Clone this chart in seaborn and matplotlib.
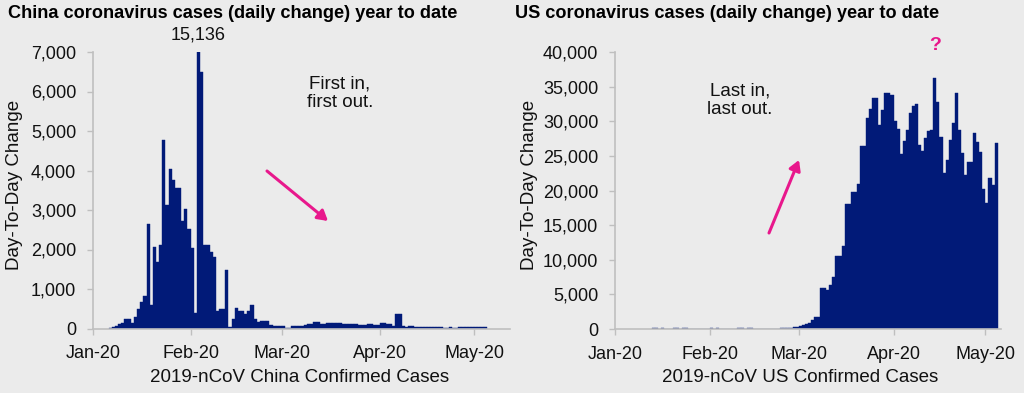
import numpy as np
import matplotlib
matplotlib.use('Agg')
import matplotlib.pyplot as plt
import seaborn as sns
from matplotlib import font_manager
from matplotlib.ticker import FuncFormatter

# Daily new cases, one value per day, starting at the given day of year (Jan 1 = 0)
china_start_day = 5
china_cases = [
    10, 30, 70, 110, 135, 240, 240, 130, 280, 500, 680, 820,
    2650, 600, 2070, 1680, 2120, 4770, 3130, 4030, 3760, 3550, 3550, 2720,
    3030, 2520, 2050, 390, 15136,
    6490, 2120, 2120, 1930, 1800, 450, 490, 490, 1470, 50, 240, 530,
    455, 447, 367, 447, 600, 237, 152, 178, 178, 178,
    93, 68, 51, 51, 51, 25, 25, 60, 60, 60,
    60, 85, 110, 110, 170, 170, 118, 118, 144, 144,
    144, 144, 144, 118, 118, 118, 118, 118, 76, 93,
    93, 110, 110, 85, 85, 144, 144, 110, 110, 68,
    372, 372, 60, 34, 60, 60, 34, 34, 34, 34,
    30, 30, 30, 30, 30, 17, 17, 42, 17, 17,
    34, 34, 34, 34, 34, 34, 34, 34, 34,
]

us_start_day = 12
us_cases = [
    80, 80, 0, 80, 0, 0, 0, 80, 80, 0, 80, 80,
    0, 0, 0, 0, 0, 0, 0, 80, 0, 80, 0, 0, 0, 0, 0, 0, 80, 80, 0, 150,
    80, 0, 50, 50, 50, 50, 50, 50, 50, 50,
    100, 100, 190, 190, 340, 340, 390, 530, 680, 920, 1250, 1740, 1740,
    5890, 5890, 5600, 6330, 7580, 10580, 10580, 12030, 18060, 18060,
    19750, 19750, 20960, 26420, 26420, 30480, 31830, 33380, 33380, 29510,
    31590, 34150, 34150, 33760, 29990, 28930, 25310, 27100, 28690, 31250,
    32170, 32550, 26610, 25650, 27580, 28550, 28790, 36270, 32800, 27720,
    22510, 24340, 27240, 29800, 34150, 28790, 25450, 22270, 24100, 24100,
    28350, 27000, 25550, 20240, 18160, 21780, 20820, 26900,
]

month_starts = [0, 31, 60, 91, 121]
month_labels = ['Jan-20', 'Feb-20', 'Mar-20', 'Apr-20', 'May-20']

BAR = '#011A78'
BG = '#EBEBEB'
PINK = '#E8188C'
SPINE = '#BFBFBF'
TXT = '#111111'


def pick_font(candidates):
    for f in candidates:
        try:
            font_manager.findfont(f, fallback_to_default=False)
            return f
        except ValueError:
            continue
    return 'DejaVu Sans'


sns.set_theme(style='white')
NARROW = pick_font(['Liberation Sans Narrow', 'Liberation Sans', 'Arial'])
REGULAR = pick_font(['Liberation Sans', 'Arial'])
plt.rcParams['font.family'] = [NARROW, 'DejaVu Sans']

W, H = 1024, 393
fig = plt.figure(figsize=(W / 100, H / 100), dpi=100)
fig.patch.set_facecolor(BG)


def px(x, y):
    return x / W, 1 - y / H


def draw_panel(rect, start, values, ymax, ystep, xmax):
    ax = fig.add_axes(rect)
    ax.set_facecolor(BG)
    pos = np.arange(len(values)) + start + 0.5
    sns.barplot(x=pos, y=values, native_scale=True, width=1, color=BAR,
                saturation=1, edgecolor=BAR, linewidth=0.3, errorbar=None, ax=ax)
    ax.set_xlim(0, xmax)
    ax.set_ylim(0, ymax)
    ax.set_yticks(np.arange(0, ymax + 1, ystep))
    ax.yaxis.set_major_formatter(FuncFormatter(lambda v, p: f'{int(v):,}'))
    ax.set_xticks(month_starts)
    ax.set_xticklabels(month_labels)
    for s in ['top', 'right']:
        ax.spines[s].set_visible(False)
    for s in ['left', 'bottom']:
        ax.spines[s].set_color(SPINE)
        ax.spines[s].set_linewidth(1.2)
    ax.tick_params(axis='both', which='major', length=4, width=1, color=SPINE,
                   labelsize=13, labelcolor=TXT, direction='out',
                   bottom=True, left=True)
    ax.tick_params(axis='x', pad=8)
    ax.tick_params(axis='y', pad=8)
    ax.set_xlabel('')
    ax.set_ylabel('')
    return ax


ax1 = draw_panel([93 / W, 1 - 328.5 / H, (510 - 93) / W, 276.5 / H],
                 china_start_day, china_cases, 7000, 1000, 132.4)
ax2 = draw_panel([615 / W, 1 - 329 / H, (1001 - 615) / W, 277 / H],
                 us_start_day, us_cases, 40000, 5000, 126.1)

# Titles
fig.text(*px(8, 14), 'China coronavirus cases (daily change) year to date',
         fontsize=13.1, fontweight='bold', ha='left', va='center', color='black')
fig.text(*px(515, 14), 'US coronavirus cases (daily change) year to date',
         fontsize=13.1, fontweight='bold', ha='left', va='center', color='black')

# Axis titles
fig.text(*px(15, 185), 'Day-To-Day Change', rotation=90, fontsize=13.5,
         family=REGULAR, ha='center', va='center', color=TXT)
fig.text(*px(530, 185), 'Day-To-Day Change', rotation=90, fontsize=13.5,
         family=REGULAR, ha='center', va='center', color=TXT)
fig.text(*px(300, 378), '2019-nCoV China Confirmed Cases', fontsize=13.5,
         ha='center', va='center', color=TXT)
fig.text(*px(800, 378), '2019-nCoV US Confirmed Cases', fontsize=13.5,
         ha='center', va='center', color=TXT)

# Annotations
fig.text(*px(198, 35), '15,136', fontsize=13, ha='center', va='center', color=TXT)
fig.text(*px(340, 93), 'First in,\nfirst out.', fontsize=13.5, ha='center', va='center',
         color=TXT, linespacing=1.1)
fig.text(*px(740, 100), 'Last in,\nlast out.', fontsize=13.5, ha='center', va='center',
         color=TXT, linespacing=1.1)
fig.text(*px(935, 46), '?', fontsize=14, fontweight='bold', ha='center', va='center',
         color=PINK)

for (x0, y0), (x1, y1) in [((267, 171), (328, 221)), ((769, 233), (799, 160))]:
    fig.add_artist(matplotlib.patches.FancyArrowPatch(
        px(x0, y0), px(x1, y1), transform=fig.transFigure,
        arrowstyle='-|>,head_length=6,head_width=3.5', color=PINK,
        linewidth=2.2, shrinkA=0, shrinkB=0))

fig.savefig('out.png', dpi=100, facecolor=BG)
